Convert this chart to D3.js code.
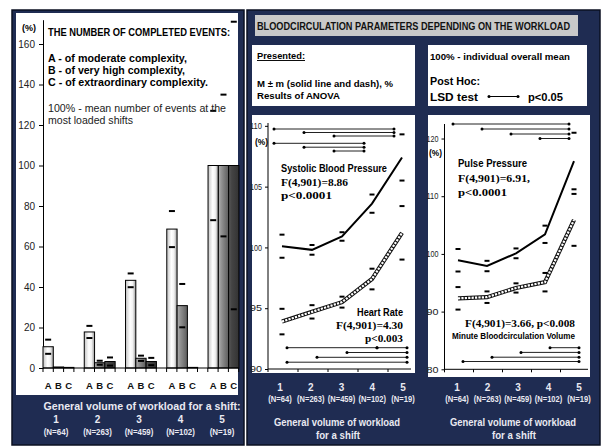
<!DOCTYPE html>
<html>
<head>
<meta charset="utf-8">
<script src="https://cdn.jsdelivr.net/npm/d3@7"></script>
<style>
  html, body { margin: 0; padding: 0; background: #ffffff; }
  svg { display: block; }
</style>
</head>
<body>
<script>
// ---------- data ----------
const shifts = ["1", "2", "3", "4", "5"];
const shiftN = ["(N=64)", "(N=263)", "(N=459)", "(N=102)", "(N=19)"];
const complexity = ["A", "B", "C"];

// completed events, % of the mean at the most loaded shifts (mean and m)
const eventsA    = [10.5, 17.8, 43.3, 68.6, 100];
const eventsAErr = [3.5, 3.0, 3.4, 8.9, 27];
const eventsB    = [0.5, 2.6, 4.8, 30.8, 100];
const eventsBErr = [null, 1.0, 1.3, 10.7, 35];
const eventsC    = [0.3, 3.2, 3.2, 0.3, 100];
const eventsCErr = [null, 2.0, 1.8, null, 71];
const eventTicks = [0, 20, 40, 60, 80, 100, 120, 140, 160];

// blood circulation, % of individual overall mean (mean and m)
const systolic      = [100.1, 99.8, 100.9, 103.6, 107.4];
const systolicErr   = [0.95, 0.4, 0.35, 0.75, 1.9];
const heartRate     = [93.9, 94.7, 95.5, 97.4, 101.2];
const heartRateErr  = [1.05, 0.55, 0.45, 0.85, 2.2];
const pulse         = [98.9, 97.9, 100.1, 103.4, 116.1];
const pulseErr      = [1.95, 0.9, 0.85, 1.5, 4.9];
const minuteVol     = [92.3, 92.5, 94.1, 95.1, 105.9];
const minuteVolErr  = [1.95, 1.0, 0.8, 1.6, 4.5];
const bpTicks = [90, 95, 100, 105, 110];
const ppTicks = [80, 90, 100, 110, 120];

// LSD post hoc pairs (p<0.05), one list per drawn row
const systolicPairs  = [[[1, 5]], [[2, 5]], [[3, 5]], [[1, 4]], [[2, 4]], [[3, 4]]];
const heartRatePairs = [[[1, 4], [4, 5]], [[3, 5]], [[2, 5]], [[1, 5]]];
const pulsePairs     = [[[1, 5]], [[2, 5]], [[3, 5]], [[4, 5]]];
const minuteVolPairs = [[[4, 5]], [[3, 5]], [[2, 5]], [[1, 5]]];

// ---------- setup ----------
const W = 602, H = 447;
const SANS = "'Liberation Sans', Arial, sans-serif";
const SERIF = "'Liberation Serif', 'Times New Roman', serif";
const NAVY = "#1f2c52";
const LIGHT = "#e9e9f1";

const svg = d3.select("body").append("svg").attr("width", W).attr("height", H);

function label(g, x, y, str, o = {}) {
  const t = g.append("text")
    .attr("x", x).attr("y", y).text(str)
    .attr("font-family", o.family || SANS)
    .attr("font-size", o.size || 10)
    .attr("font-weight", o.weight || "bold")
    .attr("fill", o.fill || "#000")
    .attr("text-anchor", o.anchor || "start");
  if (o.width) t.attr("textLength", o.width).attr("lengthAdjust", "spacingAndGlyphs");
  if (o.underline) t.attr("text-decoration", "underline");
  return t;
}

// gradients for the bar fills
const defs = svg.append("defs");
function grad(id, stops) {
  const gr = defs.append("linearGradient").attr("id", id)
    .attr("x1", "0%").attr("x2", "100%").attr("y1", "0%").attr("y2", "0%");
  stops.forEach(([o, c]) => gr.append("stop").attr("offset", o).attr("stop-color", c));
}
grad("gA", [[0, "#c4c4c4"], [0.45, "#ffffff"], [0.7, "#f2f2f2"], [1, "#9a9a9a"]]);
grad("gB", [[0, "#b0b0b0"], [0.35, "#8e8e8e"], [1, "#5c5c5c"]]);
grad("gC", [[0, "#5a5a5a"], [0.3, "#444444"], [1, "#333333"]]);
const fills = { A: "url(#gA)", B: "url(#gB)", C: "url(#gC)" };

// ---------- panels ----------
svg.append("rect").attr("x", 12).attr("y", 10).attr("width", 232).attr("height", 435)
  .attr("fill", NAVY).attr("stroke", "#0b1022").attr("stroke-width", 1.5);
svg.append("rect").attr("x", 16).attr("y", 13).attr("width", 222).attr("height", 382).attr("fill", "#fff");

svg.append("rect").attr("x", 247).attr("y", 10).attr("width", 353).attr("height", 435)
  .attr("fill", NAVY).attr("stroke", "#0b1022").attr("stroke-width", 1.5);
svg.append("rect").attr("x", 255).attr("y", 15).attr("width", 323).attr("height", 21).attr("fill", "#c9c9c9");
svg.append("rect").attr("x", 252).attr("y", 45).attr("width", 163).attr("height", 61).attr("fill", "#fff");
svg.append("rect").attr("x", 428).attr("y", 45).attr("width", 159).attr("height", 61).attr("fill", "#fff");
svg.append("rect").attr("x", 252).attr("y", 115).attr("width", 163).attr("height", 258).attr("fill", "#fff");
svg.append("rect").attr("x", 428).attr("y", 115).attr("width", 162).attr("height", 262).attr("fill", "#fff");

// ---------- left: completed events ----------
const L = svg.append("g");
const yL = d3.scaleLinear().domain([0, 172]).range([368, 19.7]);
const x0 = d3.scaleBand().domain(shifts).range([43, 249.3]).padding(0);
const x1 = d3.scaleBand().domain(complexity).range([0, 30.9]).padding(0);

const yAxisL = L.append("g").attr("transform", "translate(43,0)")
  .call(d3.axisLeft(yL).tickValues(eventTicks).tickSize(4).tickSizeOuter(0));
yAxisL.selectAll("text").attr("font-family", SANS).attr("font-size", 10).attr("fill", "#222").attr("dx", "-1");
yAxisL.selectAll("line, path").attr("stroke", "#000");

const eventSeries = { A: [eventsA, eventsAErr], B: [eventsB, eventsBErr], C: [eventsC, eventsCErr] };
const barRows = [];
shifts.forEach((s, i) => complexity.forEach(c => {
  barRows.push({ s, c, v: eventSeries[c][0][i], e: eventSeries[c][1][i] });
}));

L.selectAll("rect.bar").data(barRows).join("rect").attr("class", "bar")
  .attr("x", d => x0(d.s) + x1(d.c))
  .attr("width", x1.bandwidth())
  .attr("y", d => yL(d.v))
  .attr("height", d => yL(0) - yL(d.v))
  .attr("fill", d => fills[d.c])
  .attr("stroke", "#000").attr("stroke-width", 1);

const errRows = [];
barRows.filter(d => d.e != null).forEach(d => {
  errRows.push({ ...d, y: d.v + d.e });
  errRows.push({ ...d, y: d.v - d.e });
});
L.selectAll("line.err").data(errRows).join("line").attr("class", "err")
  .attr("x1", d => x0(d.s) + x1(d.c) + x1.bandwidth() / 2 - 3)
  .attr("x2", d => x0(d.s) + x1(d.c) + x1.bandwidth() / 2 + 3)
  .attr("y1", d => yL(d.y)).attr("y2", d => yL(d.y))
  .attr("stroke", "#000").attr("stroke-width", 2);

// category axis
L.append("line").attr("x1", 43).attr("x2", 238).attr("y1", yL(0)).attr("y2", yL(0)).attr("stroke", "#000");
const tickXs = d3.range(0, 20).map(k => 43 + k * x1.bandwidth());
L.selectAll("line.xt").data(tickXs).join("line").attr("class", "xt")
  .attr("x1", d => d).attr("x2", d => d).attr("y1", yL(0)).attr("y2", yL(0) + 4).attr("stroke", "#000");
L.selectAll("text.abc").data(barRows).join("text").attr("class", "abc")
  .attr("x", d => x0(d.s) + x1(d.c) + x1.bandwidth() / 2).attr("y", 389)
  .attr("text-anchor", "middle").attr("font-family", SANS).attr("font-size", 9.5)
  .attr("font-weight", "bold").attr("fill", "#111").text(d => d.c);

label(L, 22, 31, "(%)", { size: 9.5, width: 14 });
label(L, 48, 36, "THE NUMBER OF COMPLETED EVENTS:", { size: 10.5, width: 182 });
label(L, 48, 61.5, "A - of moderate complexity,", { size: 10.5, width: 139 });
label(L, 48, 73.5, "B - of very high complexity,", { size: 10.5, width: 137 });
label(L, 48, 85.5, "C - of extraordinary complexity.", { size: 10.5, width: 160 });
label(L, 48, 112, "100% - mean number of events at the", { size: 10, weight: "normal", fill: "#222", width: 178 });
label(L, 48, 124, "most loaded shifts", { size: 10, weight: "normal", fill: "#222", width: 85 });

const lblL = d3.scalePoint().domain(shifts).range([56, 222]);
label(L, 142, 410, "General volume of workload for a shift:", { size: 10.5, fill: LIGHT, anchor: "middle", width: 197 });
shifts.forEach((s, i) => {
  label(L, lblL(s), 422.5, s, { size: 10, fill: LIGHT, anchor: "middle" });
  label(L, lblL(s), 435, shiftN[i], { size: 8.5, fill: LIGHT, anchor: "middle", width: shiftN[i].length * 4.1 });
});

// ---------- right: header ----------
const R = svg.append("g");
label(R, 257, 29.5, "BLOODCIRCULATION PARAMETERS DEPENDING ON THE WORKLOAD", { size: 10, fill: "#111", width: 313 });
label(R, 257, 59, "Presented:", { size: 9.5, width: 48, underline: true });
label(R, 257, 86.5, "M \u00b1 m (solid line and dash), %", { size: 9.5, width: 136 });
label(R, 257, 98.5, "Results of ANOVA", { size: 9.5, width: 83 });
label(R, 430, 59.5, "100% - individual overall mean", { size: 9.5, width: 140 });
label(R, 430, 85, "Post Hoc:", { size: 11.5, width: 50 });
label(R, 430, 100.5, "LSD test", { size: 11.5, width: 48 });
R.append("line").attr("x1", 489).attr("x2", 518).attr("y1", 96.5).attr("y2", 96.5).attr("stroke", "#000");
R.selectAll("circle.leg").data([489, 518]).join("circle").attr("class", "leg")
  .attr("cx", d => d).attr("cy", 96.5).attr("r", 1.5).attr("fill", "#000");
label(R, 528, 100.5, "p<0.05", { size: 11.5, width: 35 });

// ---------- line chart helper ----------
function lineChart(g, cfg) {
  const { x, y, ticks, axisX0, axisX1, axisTop } = cfg;
  const cx = s => x(s) + x.bandwidth() / 2;

  const ax = g.append("g").attr("transform", `translate(${x.range()[0] + 1},0)`)
    .call(d3.axisLeft(y).tickValues(ticks).tickSize(3).tickSizeOuter(0));
  ax.select("path").remove();
  ax.selectAll("line").attr("stroke", "#000");
  ax.selectAll("text").attr("font-family", SANS).attr("font-size", 8.5).attr("fill", "#222")
    .attr("textLength", 12).attr("lengthAdjust", "spacingAndGlyphs");
  g.append("line").attr("x1", x.range()[0] + 1).attr("x2", x.range()[0] + 1)
    .attr("y1", y(y.domain()[0])).attr("y2", axisTop).attr("stroke", "#000");
  g.append("line").attr("x1", axisX0).attr("x2", axisX1)
    .attr("y1", y(y.domain()[0])).attr("y2", y(y.domain()[0])).attr("stroke", "#000");
  g.selectAll("line.xt").data(d3.range(0, 6).map(k => x.range()[0] + 1 + k * x.step()).filter(v => v <= axisX1 + 1))
    .join("line").attr("class", "xt")
    .attr("x1", d => d).attr("x2", d => d)
    .attr("y1", y(y.domain()[0])).attr("y2", y(y.domain()[0]) + 3).attr("stroke", "#000");

  const line = d3.line().x(d => cx(d.s)).y(d => y(d.v)).curve(d3.curveLinear);

  cfg.series.forEach(sr => {
    const pts = shifts.map((s, i) => ({ s, v: sr.values[i], e: sr.errs[i] }));
    if (sr.hatched) {
      g.append("path").datum(pts).attr("d", line).attr("fill", "none")
        .attr("stroke", "#111").attr("stroke-width", 4.2);
      g.append("path").datum(pts).attr("d", line).attr("fill", "none")
        .attr("stroke", "#fff").attr("stroke-width", 2.2).attr("stroke-dasharray", "2.2,1.2");
    } else {
      g.append("path").datum(pts).attr("d", line).attr("fill", "none")
        .attr("stroke", "#000").attr("stroke-width", 2);
    }
    const dashes = [];
    pts.forEach(p => { dashes.push({ s: p.s, v: p.v + p.e }); dashes.push({ s: p.s, v: p.v - p.e }); });
    g.selectAll(null).data(dashes).join("line")
      .attr("x1", d => cx(d.s) - 2.5).attr("x2", d => cx(d.s) + 2.5)
      .attr("y1", d => y(d.v)).attr("y2", d => y(d.v))
      .attr("stroke", "#000").attr("stroke-width", 2);
  });

  // post hoc brackets
  cfg.pairs.forEach(pp => {
    pp.rows.forEach((row, r) => {
      const yy = pp.rowY[r];
      row.forEach(([a, b]) => {
        const xa = cx(String(a)) + pp.dx, xb = cx(String(b)) + pp.dx;
        g.append("line").attr("x1", xa).attr("x2", xb).attr("y1", yy).attr("y2", yy)
          .attr("stroke", "#222").attr("stroke-width", 1);
        g.selectAll(null).data([xa, xb]).join("circle")
          .attr("cx", d => d).attr("cy", yy).attr("r", 1.5).attr("fill", "#000");
      });
    });
  });
}

// ---------- middle: systolic pressure & heart rate ----------
const M = svg.append("g");
const yM = d3.scaleLinear().domain([90, 110.25]).range([369, 122.8]);
const xM = d3.scaleBand().domain(shifts).range([267, 417]).padding(0);
lineChart(M, {
  x: xM, y: yM, ticks: bpTicks, axisX0: 268, axisX1: 411, axisTop: 123,
  series: [
    { values: systolic, errs: systolicErr, hatched: false },
    { values: heartRate, errs: heartRateErr, hatched: true }
  ],
  pairs: [
    { rows: systolicPairs, rowY: [129, 132.5, 136, 143.3, 147.2, 151], dx: -8 },
    { rows: heartRatePairs, rowY: [347.7, 352.5, 357.3, 362.2], dx: 5 }
  ]
});
label(M, 255, 145, "(%)", { size: 9, width: 13 });
label(M, 281, 171.5, "Systolic Blood Pressure", { size: 10, width: 106 });
label(M, 281, 185.5, "F(4,901)=8.86", { size: 11, family: SERIF, width: 67 });
label(M, 281, 199, "p<0.0001", { size: 11, family: SERIF, width: 51 });
label(M, 403, 315.5, "Heart Rate", { size: 10, anchor: "end", width: 46 });
label(M, 403, 328.5, "F(4,901)=4.30", { size: 11, family: SERIF, anchor: "end", width: 67 });
label(M, 403, 341.5, "p<0.003", { size: 11, family: SERIF, anchor: "end", width: 38 });

const lblM = d3.scalePoint().domain(shifts).range([280, 403]);
shifts.forEach((s, i) => {
  label(M, lblM(s), 390.5, s, { size: 10, fill: LIGHT, anchor: "middle" });
  label(M, lblM(s), 401.5, shiftN[i], { size: 8.5, fill: LIGHT, anchor: "middle", width: shiftN[i].length * 3.9 });
});
label(M, 337, 426, "General volume of workload", { size: 10.5, fill: LIGHT, anchor: "middle", width: 126 });
label(M, 338, 438.5, "for a shift", { size: 10.5, fill: LIGHT, anchor: "middle", width: 44 });

// ---------- right: pulse pressure & minute volume ----------
const P = svg.append("g");
const yP = d3.scaleLinear().domain([80, 122.5]).range([369.3, 124.1]);
const xP = d3.scaleBand().domain(shifts).range([443.5, 588.5]).padding(0);
lineChart(P, {
  x: xP, y: yP, ticks: ppTicks, axisX0: 444, axisX1: 588, axisTop: 124,
  series: [
    { values: pulse, errs: pulseErr, hatched: false },
    { values: minuteVol, errs: minuteVolErr, hatched: true }
  ],
  pairs: [
    { rows: pulsePairs, rowY: [124, 129, 134, 138.5], dx: -5 },
    { rows: minuteVolPairs, rowY: [347.7, 352.4, 357.2, 361.5], dx: 5 }
  ]
});
label(P, 429, 156, "(%)", { size: 9, width: 13 });
label(P, 458, 167, "Pulse Pressure", { size: 10, width: 69 });
label(P, 458, 182, "F(4,901)=6.91,", { size: 11, family: SERIF, width: 72 });
label(P, 458, 195.5, "p<0.0001", { size: 11, family: SERIF, width: 49 });
label(P, 465, 326.5, "F(4,901)=3.66, p<0.008", { size: 11, family: SERIF, width: 110 });
label(P, 452, 338.5, "Minute Bloodcirculation Volume", { size: 9, width: 123 });

const lblP = d3.scalePoint().domain(shifts).range([457, 579]);
shifts.forEach((s, i) => {
  label(P, lblP(s), 390.5, s, { size: 10, fill: LIGHT, anchor: "middle" });
  label(P, lblP(s), 401.5, shiftN[i], { size: 8.5, fill: LIGHT, anchor: "middle", width: shiftN[i].length * 3.9 });
});
label(P, 513, 426, "General volume of workload", { size: 10.5, fill: LIGHT, anchor: "middle", width: 126 });
label(P, 514, 438.5, "for a shift", { size: 10.5, fill: LIGHT, anchor: "middle", width: 44 });
</script>
</body>
</html>
